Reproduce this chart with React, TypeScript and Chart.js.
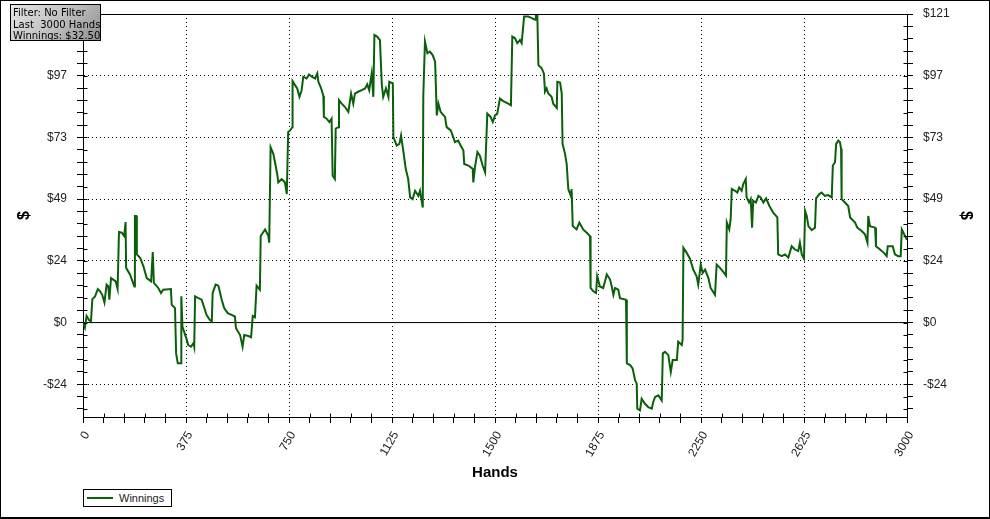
import React, { useEffect, useRef } from "react";
import { Chart, registerables } from "chart.js";

Chart.register(...registerables);

// Hands played (x) and cumulative winnings in $ (y)
const HANDS = [
  0, 7, 13, 22, 29, 34, 44, 54, 62, 70, 78, 86, 92, 96, 102, 110, 119, 126, 131, 141,
  150, 155, 157, 171, 187, 189, 194, 196, 208, 220, 232, 248, 254, 258, 274, 284, 292, 320, 323, 335,
  339, 345, 357, 358, 362, 378, 383, 393, 402, 405, 408, 420, 432, 450, 462, 469, 472, 483, 493, 505,
  514, 527, 541, 553, 557, 572, 581, 587, 602, 612, 618, 626, 632, 644, 647, 663, 675, 678, 683, 693,
  699, 707, 711, 723, 735, 742, 747, 754, 762, 763, 772, 780, 788, 796, 802, 814, 823, 833, 845, 853,
  857, 867, 875, 877, 887, 897, 905, 909, 917, 920, 930, 932, 942, 954, 966, 976, 984, 990, 1002, 1015,
  1027, 1035, 1042, 1051, 1057, 1061, 1071, 1081, 1088, 1093, 1103, 1112, 1115, 1128, 1130, 1142, 1152, 1158, 1166, 1175,
  1184, 1191, 1200, 1209, 1221, 1227, 1237, 1239, 1245, 1254, 1263, 1273, 1282, 1288, 1294, 1302, 1318, 1324, 1339, 1348,
  1354, 1366, 1375, 1385, 1388, 1403, 1419, 1421, 1427, 1436, 1445, 1455, 1464, 1472, 1484, 1492, 1500, 1508, 1518, 1530,
  1548, 1558, 1563, 1573, 1581, 1591, 1597, 1606, 1621, 1634, 1646, 1649, 1654, 1658, 1670, 1678, 1682, 1688, 1694, 1706,
  1712, 1725, 1727, 1737, 1743, 1746, 1755, 1761, 1767, 1776, 1779, 1783, 1797, 1807, 1821, 1834, 1846, 1848, 1858, 1868,
  1872, 1882, 1894, 1907, 1919, 1925, 1931, 1937, 1949, 1955, 1977, 1980, 1992, 2001, 2010, 2016, 2018, 2028, 2034, 2046,
  2058, 2071, 2076, 2083, 2095, 2107, 2111, 2119, 2131, 2140, 2147, 2162, 2167, 2180, 2183, 2186, 2198, 2210, 2222, 2234,
  2240, 2249, 2256, 2265, 2277, 2285, 2301, 2307, 2319, 2329, 2341, 2344, 2353, 2358, 2362, 2374, 2382, 2389, 2398, 2404,
  2413, 2416, 2425, 2431, 2436, 2440, 2450, 2459, 2467, 2477, 2487, 2499, 2513, 2528, 2531, 2544, 2556, 2568, 2580, 2592,
  2604, 2610, 2617, 2625, 2629, 2635, 2641, 2653, 2665, 2669, 2681, 2689, 2701, 2713, 2726, 2730, 2738, 2742, 2750, 2756,
  2760, 2762, 2774, 2786, 2793, 2811, 2819, 2835, 2847, 2856, 2859, 2865, 2884, 2887, 2902, 2916, 2926, 2930, 2948, 2956,
  2968, 2977, 2981, 2987, 3000,
];

const WINNINGS = [
  0, -2, 2.6, 1, 0.4, 9.2, 10.3, 13.2, 12.3, 10.9, 7.9, 14.9, 14.3, 9, 17.5, 16.9, 16.2, 13.2, 35.6, 35.3,
  34, 39.5, 21.5, 18.9, 14.2, 41.9, 41.9, 26.8, 25.5, 22.1, 17.5, 16.2, 27.7, 15.6, 13.6, 11.6, 12.9, 13.2, 7, 5.7,
  -12.1, -16, -16, 10.3, -1.6, -6.8, -8.8, -9.5, -8.1, -9.5, 10.3, 9.6, 9, 3, 1, 0.4, 11.6, 14.9, 14.5, 9,
  5.7, 3.7, 3, 2.4, -2.2, -4.9, -9.5, -4.9, -5.3, -5.8, 2.6, 2.1, 14.5, 12.9, 34, 36.6, 34, 31.4, 68.9, 66.3,
  63, 58.4, 55.1, 56.4, 55.1, 50.5, 74.9, 75.5, 76.8, 94.9, 93.3, 92, 88.7, 91.3, 96.6, 95.9, 97.5, 96.6, 95.9, 97.9,
  94.6, 92, 89.1, 80.8, 80.1, 78.8, 80.1, 57.7, 56.4, 76.2, 76.8, 87.4, 86, 84.7, 82.8, 90, 86, 90, 90.7, 91.3,
  92, 93.6, 91.3, 97.9, 88.7, 113, 112.4, 111, 93.3, 88.7, 92, 88.7, 94.6, 94, 72.9, 69.6, 70.2, 73.5, 67.6, 60.4,
  56.4, 49.2, 48.5, 51.8, 49.8, 51.8, 45.2, 89.3, 110.4, 105.8, 106.5, 105.1, 102.5, 81.4, 86, 82.8, 80.8, 76.8, 75.5, 72.9,
  70.9, 71.5, 69.6, 67.6, 62.3, 61.7, 60.4, 55.1, 61, 67, 65.6, 61.7, 59, 82.1, 80.8, 78.8, 81.4, 82, 88, 87,
  86, 85.4, 112.4, 111.7, 109.8, 111, 109.8, 120.3, 120.3, 119.6, 119, 121.6, 121.6, 101.2, 99.9, 97.9, 90.7, 92, 90, 88.7,
  86, 84.3, 94.6, 94.3, 90, 70.2, 66.3, 62.3, 52.4, 49.8, 52.4, 37.9, 36.6, 39.3, 36.6, 35.3, 34, 13.6, 12.3, 11.6,
  18.2, 14.2, 13.6, 18.9, 16.9, 14.2, 10.9, 13.6, 12.9, 9.6, 9, -16, -16.7, -18, -22.6, -24, -33.8, -34.5, -29.9, -31.9,
  -33.2, -33.8, -31.2, -29.2, -28.6, -30.6, -12.1, -11.5, -12.8, -19.4, -14.7, -14.7, -7.5, -8.8, -6.8, 29.4, 27.4, 25, 20.8, 18.2,
  14.9, 22.8, 19.5, 20.8, 17.5, 13.6, 10.9, 22.8, 21.5, 20.2, 18.5, 39.3, 36.6, 40.6, 52.5, 51.8, 51.1, 53.1, 51.8, 54.4,
  56.4, 49.2, 47.2, 48.5, 37.3, 47.8, 47.2, 49.8, 49.2, 47.2, 48.8, 45.8, 43.2, 41.3, 26.8, 26.1, 26.8, 25.5, 30, 28.7,
  28.1, 31.4, 26.8, 25.1, 43.9, 41.9, 37.9, 36.3, 37.3, 48.8, 50.5, 51.1, 49.8, 50.1, 49.2, 61.7, 63, 70.2, 71.5, 70.9,
  68.3, 48.5, 47.2, 45.8, 41.3, 39.3, 37.3, 36, 34.7, 31.4, 41.9, 37.9, 37.3, 30, 28.7, 27.4, 26.1, 30, 30, 26.8,
  26.1, 26.1, 36.6, 35.3, 32.5,
];

// Axis ranges and tick steps
const X_MIN = 0;
const X_MAX = 3000;
const X_MAJOR_STEP = 375;
const X_MINOR_STEP = 75;
const Y_MIN = -37.1;
const Y_MAX = 121.25;
const Y_MAJOR_STEP = 24.25;
const Y_MINOR_STEP = 4.85;

const INFO_LINES = ["Filter: No Filter", "Last\u00a0 3000 Hands", "Winnings: $32.50"];
const SERIES_LABEL = "Winnings";
const X_TITLE = "Hands";
const Y_TITLE = "$";

const LINE_COLOR = "#0a600a";
const FONT = "'Liberation Sans', Arial, sans-serif";

const isMajor = (v: number, step: number) => Math.abs(v / step - Math.round(v / step)) < 1e-6;

const xTickValues = (): number[] => {
  const out: number[] = [];
  for (let v = X_MIN; v <= X_MAX + 1e-9; v += X_MINOR_STEP) out.push(v);
  return out;
};
const yTickValues = (): number[] => {
  const out: number[] = [];
  const k0 = Math.ceil(Y_MIN / Y_MINOR_STEP - 1e-9);
  const k1 = Math.floor(Y_MAX / Y_MINOR_STEP + 1e-9);
  for (let k = k0; k <= k1; k++) out.push(+(k * Y_MINOR_STEP).toFixed(4));
  return out;
};
const fmtY = (v: number) => (v < 0 ? "-$" + Math.round(-v) : "$" + Math.round(v));

const frameAndCrossTicks = {
  id: "frameAndCrossTicks",
  afterDraw(chart: any) {
    const ctx = chart.ctx;
    const { left, right, top, bottom } = chart.chartArea;
    ctx.save();
    ctx.strokeStyle = "#000";
    ctx.lineWidth = 1;
    ctx.beginPath();
    const ty = Math.round(top) + 0.5;
    ctx.moveTo(left, ty);
    ctx.lineTo(right, ty);
    const xs = chart.scales.x;
    const by = Math.round(bottom) + 0.5;
    xs.ticks.forEach((t: any) => {
      if (isMajor(t.value, X_MAJOR_STEP)) return;
      const px = Math.round(xs.getPixelForValue(t.value)) + 0.5;
      ctx.moveTo(px, by);
      ctx.lineTo(px, by - 4);
    });
    const ys = chart.scales.y;
    const lx = Math.round(left) + 0.5;
    const rx = Math.round(right) + 0.5;
    ys.ticks.forEach((t: any) => {
      const py = Math.round(ys.getPixelForValue(t.value)) + 0.5;
      ctx.moveTo(lx, py);
      ctx.lineTo(lx + 4, py);
      ctx.moveTo(rx, py);
      ctx.lineTo(rx - 4, py);
    });
    ctx.stroke();
    ctx.restore();
  },
};

export default function App() {
  const canvasRef = useRef<HTMLCanvasElement | null>(null);

  useEffect(() => {
    const canvas = canvasRef.current;
    if (!canvas) return;
    const yAxisCommon = (position: "left" | "right") => ({
      type: "linear" as const,
      position,
      min: Y_MIN,
      max: Y_MAX,
      afterBuildTicks: (scale: any) => {
        scale.ticks = yTickValues().map((value) => ({ value }));
      },
      afterFit: (scale: any) => {
        scale.width = 83;
        scale.paddingTop = 0;
        scale.paddingBottom = 0;
      },
      ticks: {
        autoSkip: false,
        padding: 10,
        color: "#222",
        font: { family: FONT, size: 12 },
        callback: (v: any) => (isMajor(Number(v), Y_MAJOR_STEP) ? fmtY(Number(v)) : ""),
      },
      grid: {
        display: true,
        drawOnChartArea: position === "left",
        drawTicks: true,
        tickLength: 6,
        tickColor: "#000",
        lineWidth: 1,
        color: (c: any) => (c.tick && isMajor(c.tick.value, Y_MAJOR_STEP) ? "#000" : "rgba(0,0,0,0)"),
      },
      border: { display: true, color: "#000", width: 1, dash: [1, 3] },
      title: {
        display: true,
        text: Y_TITLE,
        color: "#000",
        font: { family: FONT, size: 16, weight: "bold" as const },
        padding: { top: 15, bottom: 0 },
      },
    });

    const chart = new Chart(canvas, {
      type: "line",
      data: {
        datasets: [
          {
            label: SERIES_LABEL,
            data: HANDS.map((h, i) => ({ x: h, y: WINNINGS[i] })),
            borderColor: LINE_COLOR,
            backgroundColor: LINE_COLOR,
            borderWidth: 2,
            pointRadius: 0,
            tension: 0,
            fill: false,
            yAxisID: "y",
          },
          {
            label: "zero",
            data: [
              { x: X_MIN, y: 0 },
              { x: X_MAX, y: 0 },
            ],
            borderColor: "#000",
            borderWidth: 1,
            pointRadius: 0,
            fill: false,
            yAxisID: "y",
          },
        ],
      },
      options: {
        responsive: false,
        animation: false,
        devicePixelRatio: 1,
        layout: { padding: { top: 14, bottom: 36, left: 0, right: 0 } },
        plugins: {
          legend: { display: false },
          tooltip: { enabled: false },
        },
        scales: {
          x: {
            type: "linear",
            min: X_MIN,
            max: X_MAX,
            afterBuildTicks: (scale: any) => {
              scale.ticks = xTickValues().map((value) => ({ value }));
            },
            afterFit: (scale: any) => {
              scale.height = 66;
              scale.paddingLeft = 0;
              scale.paddingRight = 0;
            },
            ticks: {
              autoSkip: false,
              minRotation: 60,
              maxRotation: 60,
              padding: 6,
              labelOffset: 4,
              color: "#222",
              font: { family: FONT, size: 12 },
              callback: (v: any) => (isMajor(Number(v), X_MAJOR_STEP) ? String(v) : ""),
            },
            grid: {
              display: true,
              drawOnChartArea: true,
              drawTicks: true,
              tickLength: 6,
              tickColor: "#000",
              lineWidth: 1,
              color: (c: any) => (c.tick && isMajor(c.tick.value, X_MAJOR_STEP) ? "#000" : "rgba(0,0,0,0)"),
            },
            border: { display: true, color: "#000", width: 1, dash: [1, 3] },
            title: {
              display: true,
              text: X_TITLE,
              color: "#000",
              font: { family: FONT, size: 15, weight: "bold" },
              padding: { top: 0, bottom: 1 },
            },
          },
          y: yAxisCommon("left"),
          y2: yAxisCommon("right"),
        },
      },
      plugins: [frameAndCrossTicks],
    } as any);
    return () => chart.destroy();
  }, []);

  return (
    <div style={{ position: "fixed", left: 0, top: 0, width: 990, height: 519, background: "#fff" }}>
      <canvas ref={canvasRef} width={990} height={519} style={{ position: "absolute", left: 0, top: 0, width: 990, height: 519 }} />
      <div
        style={{
          position: "absolute",
          left: 10,
          top: 4,
          width: 91,
          height: 37,
          boxSizing: "border-box",
          border: "1px solid #000",
          background: "linear-gradient(135deg, #e6e6e6 0%, #bdbdbd 55%, #8e8e8e 100%)",
          fontFamily: "'DejaVu Sans', Verdana, sans-serif",
          fontSize: 10,
          lineHeight: "11.5px",
          color: "#000",
          padding: "2px 0 0 2px",
          whiteSpace: "pre",
        }}
      >
        {INFO_LINES.map((l) => (
          <div key={l}>{l}</div>
        ))}
      </div>
      <div
        style={{
          position: "absolute",
          left: 83,
          top: 489,
          width: 89,
          height: 18,
          boxSizing: "border-box",
          border: "1px solid #000",
          background: "#fff",
          fontFamily: FONT,
          fontSize: 11,
        }}
      >
        <div style={{ position: "absolute", left: 3, top: 7, width: 26, height: 2, background: LINE_COLOR }} />
        <div style={{ position: "absolute", left: 35, top: 1, lineHeight: "14px", color: "#222" }}>{SERIES_LABEL}</div>
      </div>
      <div
        style={{
          position: "absolute",
          left: 0,
          top: 0,
          width: 990,
          height: 519,
          boxSizing: "border-box",
          borderStyle: "solid",
          borderColor: "#000",
          borderWidth: "1px 1px 2px 1px",
          pointerEvents: "none",
        }}
      />
    </div>
  );
}
